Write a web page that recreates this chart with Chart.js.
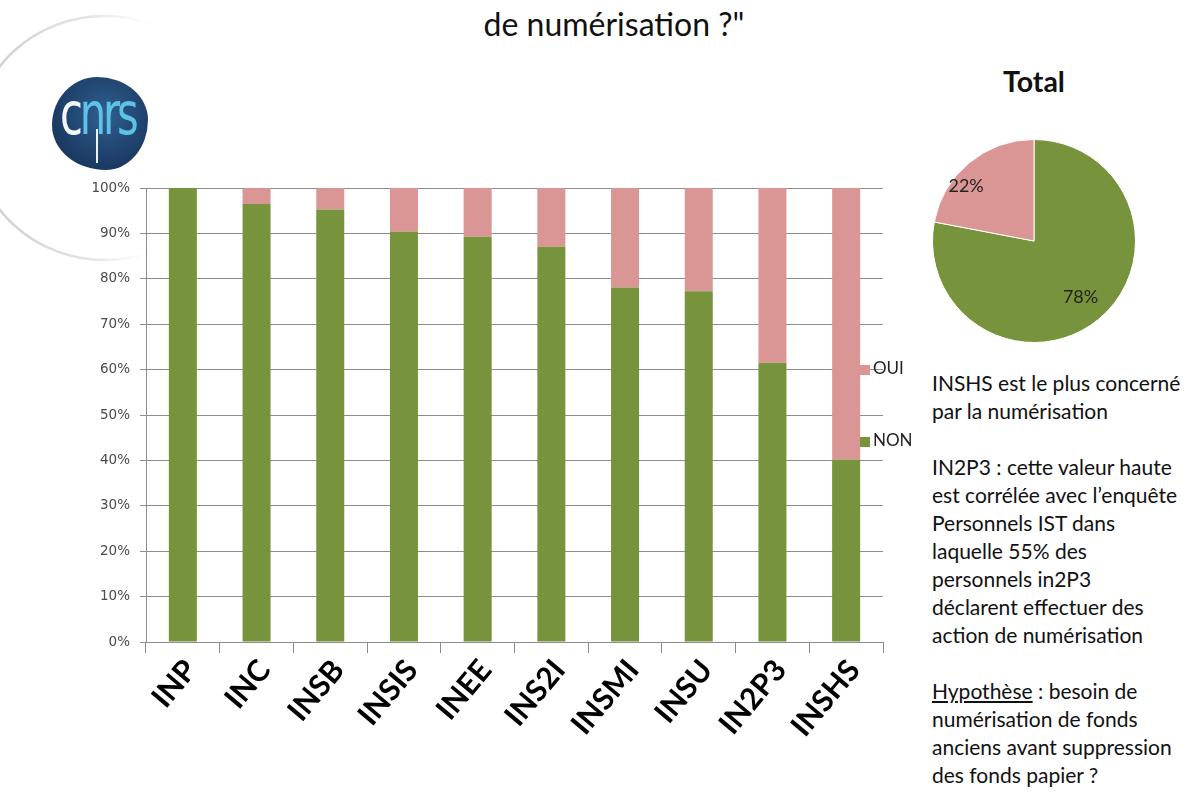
<!DOCTYPE html>
<html lang="fr">
<head>
<meta charset="utf-8">
<title>Numérisation par institut</title>
<script src="https://cdn.jsdelivr.net/npm/chart.js@4.4.0/dist/chart.umd.min.js"></script>
<style>
  html, body {
    margin: 0;
    padding: 0;
    background: #fff;
    width: 1190px;
    height: 793px;
    overflow: hidden;
    font-family: Lato, "Open Sans", sans-serif;
  }
  .abs { position: absolute; }
  #swoosh { left: 0; top: 0; }
  .slide-title {
    left: 0; top: 4px; width: 1228px;
    text-align: center;
    font-size: 32px;
    color: #111;
  }
  .logo {
    left: 52px; top: 77px; width: 96px; height: 93px;
    border-radius: 47% 53% 44% 56% / 52% 46% 54% 48%;
    background: radial-gradient(circle at 55% 40%, #2f5f8f 0%, #1f416c 55%, #142c4e 100%);
    overflow: hidden;
  }
  .logo .word {
    position: absolute; left: 8px; top: 3px;
    font-family: "DejaVu Sans Condensed", "Liberation Sans Narrow", sans-serif;
    font-size: 58px; letter-spacing: -4px;
    transform: scaleX(0.8); transform-origin: left top;
  }
  .logo .c { color: #f4f7fa; }
  .logo .nrs { color: #5cc3e6; }
  .logo .stem {
    position: absolute; left: 44px; top: 52px; width: 2px; height: 34px;
    background: #e8f3f8;
  }
  .legend { font-size: 17px; color: #222; }
  .legend .sw { display: inline-block; width: 10px; height: 10px; margin-right: 3px; vertical-align: middle; }
  .pie-title { left: 934px; top: 64px; width: 200px; text-align: center; font-size: 28.5px; font-weight: bold; color: #111; }
  .notes {
    left: 932px; top: 369px; width: 258px;
    font-size: 21px; line-height: 28px; color: #111;
    white-space: nowrap;
  }
  .notes u { text-decoration: underline; }
</style>
</head>
<body>
<svg id="swoosh" class="abs" width="300" height="300">
  <defs>
    <linearGradient id="fade" x1="0" y1="0" x2="1" y2="0">
      <stop offset="0" stop-color="#cccccc" stop-opacity="1"/>
      <stop offset="0.45" stop-color="#d8d8d8" stop-opacity="0.7"/>
      <stop offset="0.7" stop-color="#eeeeee" stop-opacity="0"/>
    </linearGradient>
  </defs>
  <ellipse cx="105" cy="138" rx="130" ry="122" fill="none" stroke="url(#fade)" stroke-width="2.5"/>
</svg>

<div class="abs slide-title">de numérisation ?"</div>

<div class="abs logo">
  <div class="word"><span class="c">c</span><span class="nrs">nrs</span></div>
  <div class="stem"></div>
</div>

<canvas id="barChart" class="abs" width="830" height="623" style="left:60px;top:170px;"></canvas>
<div id="legend" class="abs legend" style="left:860px;top:357px;"></div>

<div class="abs pie-title">Total</div>
<canvas id="pieChart" class="abs" width="204" height="204" style="left:932px;top:139px;"></canvas>

<div class="abs notes">
  INSHS est le plus concerné<br>
  par la numérisation<br>
  <br>
  IN2P3 : cette valeur haute<br>
  est corrélée avec l’enquête<br>
  Personnels IST dans<br>
  laquelle 55% des<br>
  personnels in2P3<br>
  déclarent effectuer des<br>
  action de numérisation<br>
  <br>
  <u>Hypothèse</u> : besoin de<br>
  numérisation de fonds<br>
  anciens avant suppression<br>
  des fonds papier ?
</div>

<script>
// Data
const instituts = ["INP", "INC", "INSB", "INSIS", "INEE", "INS2I", "INSMI", "INSU", "IN2P3", "INSHS"];
const nonValues = [100, 96.5, 95.3, 90.4, 89.3, 87.1, 78.1, 77.3, 61.5, 40.2];
const ouiValues = [0, 3.5, 4.7, 9.6, 10.7, 12.9, 21.9, 22.7, 38.5, 59.8];
const yTicks = [0, 10, 20, 30, 40, 50, 60, 70, 80, 90, 100];

const totalLabels = ["NON", "OUI"];
const totalValues = [78, 22];

const GREEN = "#77933c";
const PINK = "#d99694";
const GRID = "#8c8c8c";

// Stacked bar chart
const barCtx = document.getElementById("barChart").getContext("2d");
new Chart(barCtx, {
  type: "bar",
  data: {
    labels: instituts,
    datasets: [
      { label: "NON", data: nonValues, backgroundColor: GREEN },
      { label: "OUI", data: ouiValues, backgroundColor: PINK }
    ]
  },
  options: {
    responsive: false,
    animation: false,
    categoryPercentage: 1,
    barPercentage: 0.38,
    layout: { padding: { top: 16, right: 7, left: 0, bottom: 0 } },
    plugins: {
      legend: { display: false },
      tooltip: { enabled: false }
    },
    scales: {
      x: {
        stacked: true,
        afterFit: (scale) => { scale.height = 151; },
        grid: {
          offset: true,
          drawOnChartArea: false,
          drawTicks: true,
          tickLength: 11,
          color: GRID
        },
        border: { color: GRID },
        ticks: {
          minRotation: 50,
          maxRotation: 50,
          padding: 0,
          labelOffset: 8,
          color: "#000",
          font: { family: "Lato, 'Open Sans', sans-serif", size: 30, weight: "bold" }
        }
      },
      y: {
        stacked: true,
        min: 0,
        max: 100,
        afterFit: (scale) => { scale.width = 86; },
        afterBuildTicks: (scale) => { scale.ticks = yTicks.map((v) => ({ value: v })); },
        grid: { color: GRID, tickLength: 6 },
        border: { color: GRID },
        ticks: {
          padding: 10,
          color: "#4a4a4a",
          font: { family: "'DejaVu Sans', sans-serif", size: 13.5 },
          callback: (value) => value + "%"
        }
      }
    }
  }
});

// HTML legend (OUI above NON, like the slide)
const legendEl = document.getElementById("legend");
const legendItems = [
  { label: "OUI", color: PINK, top: 0 },
  { label: "NON", color: GREEN, top: 72 }
];
legendItems.forEach((item) => {
  const row = document.createElement("div");
  row.style.position = "absolute";
  row.style.top = item.top + "px";
  row.style.left = "0px";
  row.style.whiteSpace = "nowrap";
  row.innerHTML = '<span class="sw" style="background:' + item.color + '"></span>' + item.label;
  legendEl.appendChild(row);
});

// Percent labels inside pie slices
const sliceLabels = {
  id: "sliceLabels",
  afterDatasetsDraw(chart) {
    const ctx = chart.ctx;
    const meta = chart.getDatasetMeta(0);
    const data = chart.data.datasets[0].data;
    const total = data.reduce((a, b) => a + b, 0);
    ctx.save();
    ctx.font = "18px Lato, 'Open Sans', sans-serif";
    ctx.fillStyle = "#222";
    ctx.textAlign = "center";
    ctx.textBaseline = "middle";
    meta.data.forEach((arc, i) => {
      const p = arc.getProps(["x", "y", "startAngle", "endAngle", "outerRadius"], true);
      const small = data[i] / total < 0.5;
      // Excel puts the small label a little towards the slice's first edge
      const mid = (p.startAngle + p.endAngle) / 2 - (small ? 0.2 : 0);
      const r = p.outerRadius * (small ? 0.86 : 0.72);
      ctx.fillText(Math.round((data[i] / total) * 100) + "%", p.x + Math.cos(mid) * r, p.y + Math.sin(mid) * r);
    });
    ctx.restore();
  }
};

const pieCtx = document.getElementById("pieChart").getContext("2d");
new Chart(pieCtx, {
  type: "pie",
  data: {
    labels: totalLabels,
    datasets: [{
      data: totalValues,
      backgroundColor: [GREEN, PINK],
      borderColor: "#ffffff",
      borderWidth: 1
    }]
  },
  options: {
    responsive: false,
    animation: false,
    plugins: {
      legend: { display: false },
      tooltip: { enabled: false }
    }
  },
  plugins: [sliceLabels]
});
</script>
</body>
</html>
